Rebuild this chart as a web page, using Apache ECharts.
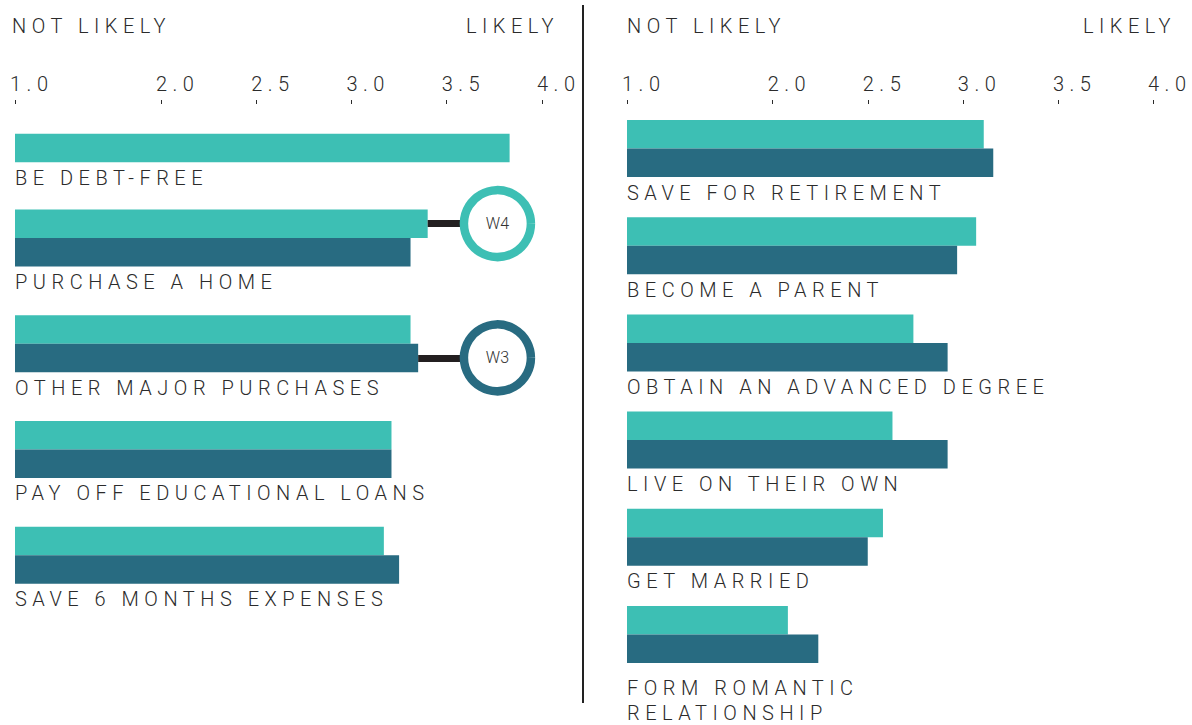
<!DOCTYPE html>
<html lang="en">
<head>
<meta charset="UTF-8">
<title>index</title>
<script src="https://cdn.jsdelivr.net/npm/echarts@6/dist/echarts.min.js"></script>
<style>
    html, body { margin: 0; padding: 0; background: #fff; }
    #chart { width: 1192px; height: 725px; }
    /* wide tracking on the caps; svg renderer so the browser does the spacing and the anchoring */
    #chart text { letter-spacing: 5.5px; }
    #chart text[style*="sans-serif"] { letter-spacing: 0; }
</style>
</head>
<body>
<div id="chart"></div>
<script>
var seriesNames = ['W4', 'W3'];

var leftCategories = ['BE DEBT-FREE', 'PURCHASE A HOME', 'OTHER MAJOR PURCHASES', 'PAY OFF EDUCATIONAL LOANS', 'SAVE 6 MONTHS EXPENSES'];
var leftW4 = [3.83, 3.40, 3.31, 3.21, 3.17];
var leftW3 = [null, 3.31, 3.35, 3.21, 3.25];

var rightCategories = ['SAVE FOR RETIREMENT', 'BECOME A PARENT', 'OBTAIN AN ADVANCED DEGREE', 'LIVE ON THEIR OWN', 'GET MARRIED', 'FORM ROMANTIC\nRELATIONSHIP'];
var rightW4 = [3.11, 3.07, 2.74, 2.63, 2.58, 2.08];
var rightW3 = [3.16, 2.97, 2.92, 2.92, 2.50, 2.24];

// the 1.0 - 2.0 stretch is squeezed in the original, bars start here and the tick reads 1.0
var axisStart = 1.234;
var tickValues = [axisStart, 2.0, 2.5, 3.0, 3.5, 4.0];
var tickLabels = ['1.0', '2.0', '2.5', '3.0', '3.5', '4.0'];

var TEAL = '#3dbfb4';
var DARK = '#286b81';
var INK = '#2b2b2b';
var FONT = 'Roboto';

var chart = echarts.init(document.getElementById('chart'), null, { renderer: 'svg' });

function tickText(v) {
    for (var i = 0; i < tickValues.length; i++) {
        if (Math.abs(tickValues[i] - v) < 1e-6) return tickLabels[i];
    }
    return '';
}

function xAxisFor(gridIndex, show) {
    return {
        gridIndex: gridIndex,
        type: 'value',
        position: 'top',
        min: axisStart,
        max: 4,
        show: show,
        splitLine: { show: false },
        axisLine: { show: false },
        axisTick: {
            show: true, inside: true, length: 4,
            customValues: tickValues,
            lineStyle: { color: INK, width: 1 }
        },
        axisLabel: {
            show: true,
            customValues: tickValues,
            formatter: tickText,
            margin: 6,
            align: 'left',
            padding: [0, 0, 0, -5],
            color: INK, fontSize: 20, fontFamily: FONT, fontWeight: 300
        }
    };
}

function yAxisFor(gridIndex, cats) {
    return { gridIndex: gridIndex, type: 'category', data: cats, inverse: true, show: false };
}

var underLabel = {
    show: true,
    position: [0, '100%'],
    offset: [0, 3],
    formatter: '{b}',
    align: 'left',
    verticalAlign: 'top',
    color: INK, fontSize: 20, fontFamily: FONT, fontWeight: 300, lineHeight: 25
};

function bar(name, color, data, xi, withLabel) {
    return {
        name: name, type: 'bar',
        xAxisIndex: xi, yAxisIndex: xi,
        data: data,
        barWidth: 28.5, barGap: '0%',
        itemStyle: { color: color },
        label: withLabel ? underLabel : { show: false },
        silent: true
    };
}

function callout(text, color, catIndex, barEnd) {
    return {
        markLine: {
            silent: true, z: 3,
            symbol: ['none', 'none'],
            label: { show: false },
            lineStyle: { color: '#231f20', width: 7, type: 'solid' },
            data: [[{ coord: [barEnd, catIndex] }, { coord: [3.62, catIndex] }]]
        },
        markPoint: {
            silent: true, z: 6,
            symbol: 'circle', symbolSize: 67,
            itemStyle: { color: '#fff', borderColor: color, borderWidth: 8.5 },
            label: {
                show: true, position: 'inside', formatter: text,
                color: '#333', fontSize: 16, fontFamily: 'Roboto, sans-serif', fontWeight: 300
            },
            data: [{ coord: [3.766, catIndex] }]
        }
    };
}

var w4Left = bar(seriesNames[0], TEAL, leftW4.slice(1), 1, false);
var w3Left = bar(seriesNames[1], DARK, leftW3.slice(1), 1, true);
var c4 = callout(seriesNames[0], TEAL, 0, leftW4[1]);
w4Left.markLine = c4.markLine; w4Left.markPoint = c4.markPoint;
var c3 = callout(seriesNames[1], DARK, 1, leftW3[2]);
w3Left.markLine = c3.markLine; w3Left.markPoint = c3.markPoint;

// the two-line label at the bottom sits a little lower in the original
var rightW3Items = rightW3.map(function (v, i) {
    return i === rightW3.length - 1 ? { value: v, label: { offset: [0, 13] } } : v;
});

var titleStyle = { fill: INK, fontSize: 20, fontFamily: FONT, fontWeight: 300 };

chart.setOption({
    animation: false,
    grid: [
        { left: 15, width: 527, top: 100, height: 96 },
        { left: 15, width: 527, top: 185, height: 423 },
        { left: 627, width: 526, top: 100, height: 583 }
    ],
    xAxis: [xAxisFor(0, true), xAxisFor(1, false), xAxisFor(2, true)],
    yAxis: [yAxisFor(0, leftCategories.slice(0, 1)), yAxisFor(1, leftCategories.slice(1)), yAxisFor(2, rightCategories)],
    series: [
        bar(seriesNames[0], TEAL, leftW4.slice(0, 1), 0, true),
        w4Left,
        w3Left,
        bar(seriesNames[0], TEAL, rightW4, 2, false),
        bar(seriesNames[1], DARK, rightW3Items, 2, true)
    ],
    graphic: [
        { type: 'line', shape: { x1: 583, y1: 5, x2: 583, y2: 703 }, style: { stroke: '#222', lineWidth: 2 } },
        { type: 'text', x: 12, y: 16, style: Object.assign({ text: 'NOT LIKELY', textAlign: 'left' }, titleStyle) },
        { type: 'text', x: 559, y: 16, style: Object.assign({ text: 'LIKELY', textAlign: 'right' }, titleStyle) },
        { type: 'text', x: 627, y: 16, style: Object.assign({ text: 'NOT LIKELY', textAlign: 'left' }, titleStyle) },
        { type: 'text', x: 1176, y: 16, style: Object.assign({ text: 'LIKELY', textAlign: 'right' }, titleStyle) }
    ]
});
</script>
</body>
</html>
